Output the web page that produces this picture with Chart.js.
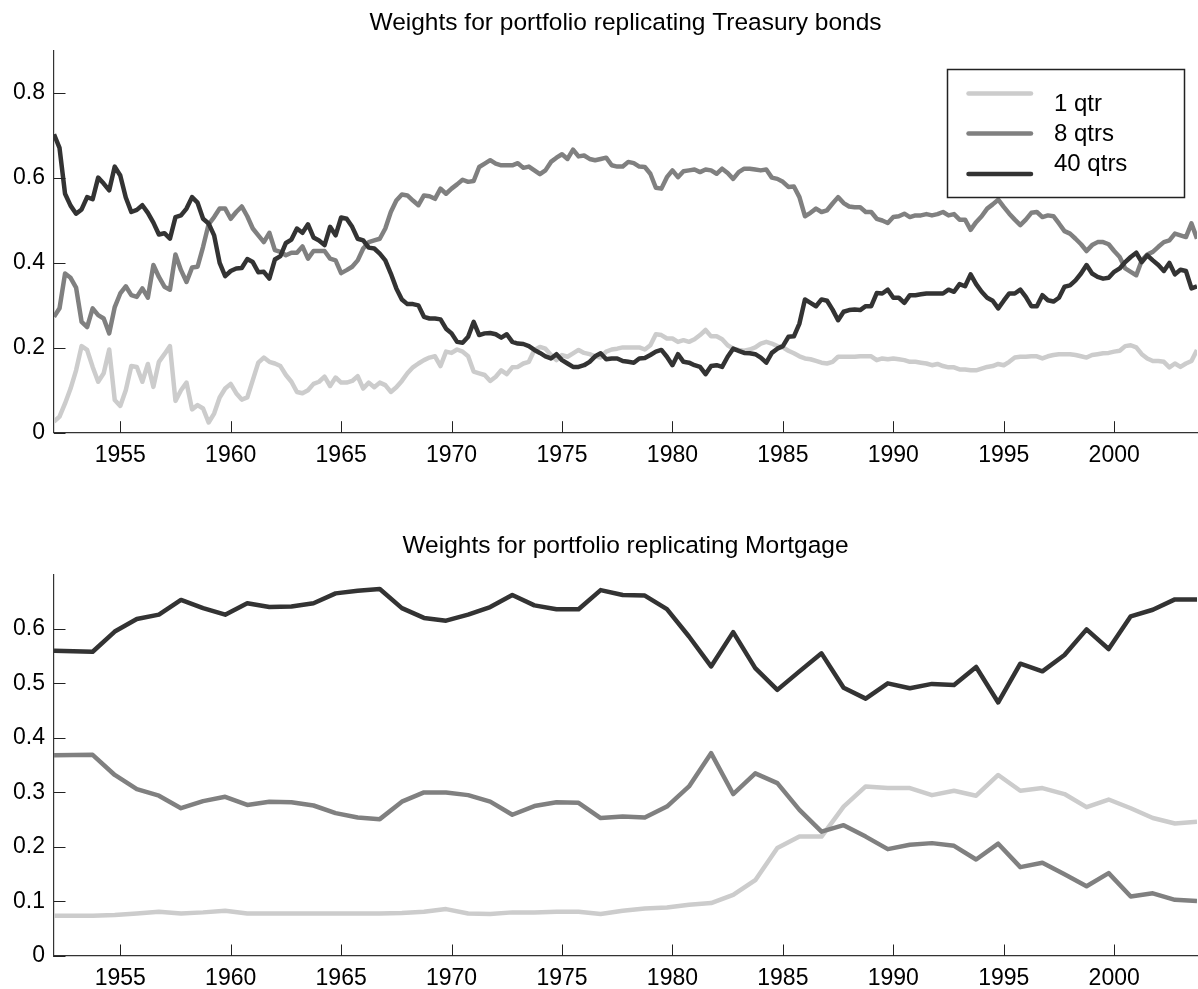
<!DOCTYPE html>
<html>
<head>
<meta charset="utf-8">
<script src="https://cdn.jsdelivr.net/npm/chart.js@4.4.1/dist/chart.umd.min.js"></script>
<style>
  body { margin: 0; background: #fff; }
  .panel { position: absolute; left: 0; width: 1198px; }
  #topPanel { top: 0; height: 494px; }
  #bottomPanel { top: 494px; height: 495px; }
</style>
</head>
<body>
<div class="panel" id="topPanel"><canvas id="treasuryChart"></canvas></div>
<div class="panel" id="bottomPanel"><canvas id="mortgageChart"></canvas></div>
<script>
// Series names and greys, shared by both panels
const seriesLabels = ['1 qtr', '8 qtrs', '40 qtrs'];
const seriesColors = ['#cccccc', '#808080', '#333333'];

const xTicks = [1955, 1960, 1965, 1970, 1975, 1980, 1985, 1990, 1995, 2000];
const treasuryYTicks = [0, 0.2, 0.4, 0.6, 0.8];
const mortgageYTicks = [0, 0.1, 0.2, 0.3, 0.4, 0.5, 0.6];

// Treasury panel: quarterly, 1952Q1 .. 2003Q4
const treasuryStart = 1952;
const treasury1q = [
    0.026, 0.038, 0.069, 0.104, 0.147, 0.204, 0.195, 0.155, 0.120, 0.140,
    0.196, 0.077, 0.063, 0.100, 0.157, 0.155, 0.120, 0.162, 0.108, 0.167,
    0.185, 0.204, 0.075, 0.100, 0.118, 0.055, 0.065, 0.057, 0.024, 0.045,
    0.083, 0.104, 0.115, 0.093, 0.078, 0.083, 0.124, 0.165, 0.177, 0.167,
    0.163, 0.157, 0.136, 0.120, 0.096, 0.093, 0.100, 0.115, 0.120, 0.132,
    0.110, 0.130, 0.118, 0.118, 0.122, 0.133, 0.104, 0.118, 0.107, 0.118,
    0.112, 0.096, 0.107, 0.122, 0.140, 0.154, 0.163, 0.171, 0.177, 0.180,
    0.157, 0.191, 0.188, 0.196, 0.191, 0.180, 0.144, 0.140, 0.136, 0.122,
    0.132, 0.147, 0.138, 0.154, 0.155, 0.163, 0.167, 0.195, 0.202, 0.198,
    0.183, 0.171, 0.183, 0.179, 0.187, 0.195, 0.188, 0.185, 0.180, 0.177,
    0.191, 0.196, 0.198, 0.201, 0.201, 0.201, 0.201, 0.196, 0.206, 0.232,
    0.230, 0.222, 0.222, 0.214, 0.218, 0.214, 0.220, 0.230, 0.242, 0.227,
    0.227, 0.220, 0.206, 0.198, 0.195, 0.193, 0.196, 0.201, 0.210, 0.214,
    0.210, 0.204, 0.201, 0.193, 0.187, 0.180, 0.175, 0.173, 0.169, 0.165,
    0.163, 0.167, 0.179, 0.179, 0.179, 0.179, 0.180, 0.180, 0.180, 0.171,
    0.175, 0.173, 0.175, 0.173, 0.171, 0.167, 0.167, 0.165, 0.163, 0.159,
    0.162, 0.157, 0.154, 0.154, 0.149, 0.149, 0.147, 0.147, 0.151, 0.155,
    0.157, 0.162, 0.159, 0.167, 0.177, 0.179, 0.179, 0.180, 0.180, 0.175,
    0.180, 0.183, 0.185, 0.185, 0.185, 0.183, 0.180, 0.177, 0.183, 0.185,
    0.187, 0.188, 0.191, 0.193, 0.204, 0.206, 0.201, 0.185, 0.175, 0.169,
    0.169, 0.167, 0.154, 0.163, 0.155, 0.163, 0.169, 0.195
];
const treasury8q = [
    0.273, 0.293, 0.375, 0.365, 0.342, 0.261, 0.249, 0.293, 0.277, 0.269,
    0.234, 0.296, 0.328, 0.345, 0.324, 0.320, 0.340, 0.318, 0.395, 0.367,
    0.344, 0.337, 0.420, 0.383, 0.355, 0.389, 0.391, 0.438, 0.491, 0.508,
    0.528, 0.528, 0.504, 0.520, 0.533, 0.510, 0.481, 0.465, 0.449, 0.471,
    0.430, 0.426, 0.418, 0.424, 0.424, 0.439, 0.410, 0.428, 0.428, 0.428,
    0.410, 0.406, 0.376, 0.383, 0.391, 0.406, 0.434, 0.449, 0.453, 0.457,
    0.481, 0.520, 0.547, 0.561, 0.559, 0.547, 0.536, 0.559, 0.557, 0.551,
    0.575, 0.563, 0.575, 0.585, 0.596, 0.591, 0.593, 0.626, 0.634, 0.642,
    0.634, 0.630, 0.630, 0.630, 0.635, 0.624, 0.627, 0.618, 0.609, 0.618,
    0.638, 0.648, 0.656, 0.645, 0.667, 0.651, 0.653, 0.645, 0.642, 0.645,
    0.648, 0.630, 0.627, 0.627, 0.638, 0.635, 0.627, 0.626, 0.610, 0.577,
    0.575, 0.602, 0.618, 0.602, 0.616, 0.618, 0.620, 0.614, 0.620, 0.618,
    0.610, 0.622, 0.612, 0.598, 0.614, 0.622, 0.622, 0.620, 0.618, 0.620,
    0.601, 0.598, 0.591, 0.579, 0.580, 0.555, 0.510, 0.518, 0.528, 0.520,
    0.524, 0.540, 0.555, 0.541, 0.533, 0.531, 0.531, 0.520, 0.520, 0.504,
    0.500, 0.494, 0.508, 0.510, 0.516, 0.508, 0.512, 0.512, 0.515, 0.512,
    0.515, 0.520, 0.512, 0.515, 0.502, 0.502, 0.478, 0.496, 0.510, 0.528,
    0.538, 0.549, 0.532, 0.516, 0.502, 0.489, 0.502, 0.518, 0.520, 0.508,
    0.512, 0.510, 0.493, 0.475, 0.469, 0.457, 0.444, 0.428, 0.442, 0.449,
    0.449, 0.444, 0.428, 0.414, 0.387, 0.379, 0.371, 0.406, 0.420, 0.426,
    0.438, 0.449, 0.453, 0.469, 0.465, 0.461, 0.493, 0.457
];
const treasury40q = [
    0.703, 0.671, 0.563, 0.535, 0.516, 0.526, 0.555, 0.550, 0.601, 0.587,
    0.571, 0.627, 0.606, 0.554, 0.520, 0.525, 0.536, 0.518, 0.495, 0.467,
    0.470, 0.457, 0.508, 0.512, 0.528, 0.555, 0.542, 0.504, 0.493, 0.465,
    0.400, 0.369, 0.381, 0.387, 0.388, 0.409, 0.402, 0.378, 0.379, 0.363,
    0.408, 0.416, 0.447, 0.455, 0.481, 0.471, 0.491, 0.460, 0.453, 0.442,
    0.485, 0.465, 0.507, 0.504, 0.485, 0.457, 0.453, 0.436, 0.434, 0.422,
    0.406, 0.375, 0.340, 0.314, 0.303, 0.303, 0.300, 0.273, 0.269, 0.269,
    0.267, 0.245, 0.234, 0.214, 0.212, 0.226, 0.261, 0.230, 0.234, 0.235,
    0.232, 0.224, 0.232, 0.214, 0.210, 0.209, 0.204, 0.195, 0.188, 0.180,
    0.175, 0.185, 0.171, 0.163, 0.155, 0.155, 0.159, 0.167, 0.180, 0.187,
    0.173, 0.175, 0.175, 0.169, 0.167, 0.165, 0.175, 0.176, 0.183, 0.191,
    0.195, 0.179, 0.159, 0.185, 0.167, 0.165, 0.159, 0.155, 0.138, 0.157,
    0.159, 0.155, 0.179, 0.198, 0.193, 0.188, 0.187, 0.185, 0.177, 0.165,
    0.188, 0.198, 0.204, 0.226, 0.227, 0.257, 0.314, 0.306, 0.298, 0.314,
    0.311, 0.290, 0.265, 0.285, 0.289, 0.290, 0.289, 0.298, 0.298, 0.329,
    0.328, 0.337, 0.318, 0.318, 0.306, 0.324, 0.324, 0.326, 0.328, 0.328,
    0.328, 0.328, 0.337, 0.332, 0.350, 0.345, 0.373, 0.350, 0.332, 0.318,
    0.311, 0.293, 0.311, 0.328, 0.328, 0.337, 0.320, 0.298, 0.298, 0.324,
    0.312, 0.309, 0.318, 0.344, 0.347, 0.359, 0.375, 0.395, 0.375, 0.367,
    0.363, 0.365, 0.379, 0.387, 0.402, 0.414, 0.424, 0.402, 0.418, 0.406,
    0.395, 0.381, 0.400, 0.373, 0.384, 0.381, 0.340, 0.345
];

// Mortgage panel: one value per year (fourth quarter)
const mortgageYears = [
    1952, 1953.75, 1954.75, 1955.75, 1956.75, 1957.75, 1958.75, 1959.75, 1960.75, 1961.75,
    1962.75, 1963.75, 1964.75, 1965.75, 1966.75, 1967.75, 1968.75, 1969.75, 1970.75, 1971.75,
    1972.75, 1973.75, 1974.75, 1975.75, 1976.75, 1977.75, 1978.75, 1979.75, 1980.75, 1981.75,
    1982.75, 1983.75, 1984.75, 1985.75, 1986.75, 1987.75, 1988.75, 1989.75, 1990.75, 1991.75,
    1992.75, 1993.75, 1994.75, 1995.75, 1996.75, 1997.75, 1998.75, 1999.75, 2000.75, 2001.75,
    2002.75, 2003.75
];
const mortgage1q = [
    0.074, 0.074, 0.075, 0.078, 0.081, 0.078, 0.080, 0.083, 0.078, 0.078,
    0.078, 0.078, 0.078, 0.078, 0.078, 0.079, 0.081, 0.086, 0.078, 0.077,
    0.080, 0.080, 0.081, 0.081, 0.077, 0.083, 0.087, 0.089, 0.094, 0.097,
    0.112, 0.139, 0.198, 0.219, 0.219, 0.274, 0.311, 0.308, 0.308, 0.295,
    0.303, 0.294, 0.332, 0.303, 0.308, 0.297, 0.273, 0.287, 0.271, 0.253,
    0.243, 0.246
];
const mortgage8q = [
    0.368, 0.369, 0.332, 0.306, 0.294, 0.271, 0.284, 0.292, 0.277, 0.283,
    0.282, 0.276, 0.262, 0.254, 0.251, 0.283, 0.300, 0.300, 0.295, 0.283,
    0.259, 0.275, 0.282, 0.281, 0.253, 0.256, 0.254, 0.274, 0.311, 0.372,
    0.297, 0.335, 0.317, 0.268, 0.228, 0.240, 0.219, 0.196, 0.204, 0.207,
    0.202, 0.177, 0.206, 0.163, 0.171, 0.150, 0.128, 0.152, 0.109, 0.115,
    0.103, 0.101
];
const mortgage40q = [
    0.560, 0.558, 0.595, 0.618, 0.626, 0.653, 0.638, 0.626, 0.647, 0.640,
    0.641, 0.647, 0.665, 0.670, 0.673, 0.638, 0.620, 0.615, 0.626, 0.640,
    0.662, 0.643, 0.636, 0.636, 0.671, 0.662, 0.661, 0.636, 0.586, 0.531,
    0.594, 0.528, 0.488, 0.522, 0.555, 0.492, 0.472, 0.500, 0.491, 0.499,
    0.497, 0.530, 0.465, 0.536, 0.522, 0.552, 0.599, 0.563, 0.623, 0.635,
    0.654, 0.654
];

const treasuryQuarters = treasury1q.map((v, i) => treasuryStart + i / 4);

Chart.defaults.font.family = '"Liberation Sans", Arial, Helvetica, sans-serif';
Chart.defaults.color = '#000';

// MATLAB style tick marks that point into the axes
const insideTicks = {
    id: 'insideTicks',
    afterDatasetsDraw(chart) {
        const { ctx, chartArea, scales } = chart;
        ctx.save();
        ctx.strokeStyle = '#222';
        ctx.lineWidth = 1;
        ctx.beginPath();
        scales.x.ticks.forEach(t => {
            const px = Math.round(scales.x.getPixelForValue(t.value)) + 0.5;
            ctx.moveTo(px, chartArea.bottom);
            ctx.lineTo(px, chartArea.bottom - 11.5);
        });
        scales.y.ticks.forEach(t => {
            const py = Math.round(scales.y.getPixelForValue(t.value)) + 0.5;
            ctx.moveTo(chartArea.left, py);
            ctx.lineTo(chartArea.left + 11.5, py);
        });
        ctx.stroke();
        ctx.restore();
    }
};

// Boxed legend in the upper right of the Treasury panel
const boxLegend = {
    id: 'boxLegend',
    afterDraw(chart) {
        const ctx = chart.ctx;
        const lineY = [93.5, 133.5, 174];
        const textY = [104, 134, 164];
        ctx.save();
        ctx.fillStyle = '#fff';
        ctx.fillRect(947, 69, 238, 129);
        ctx.strokeStyle = '#222';
        ctx.lineWidth = 1.5;
        ctx.strokeRect(947.5, 69.5, 237, 128);
        chart.data.datasets.forEach((ds, i) => {
            ctx.strokeStyle = ds.borderColor;
            ctx.lineWidth = 4.5;
            ctx.lineCap = 'round';
            ctx.beginPath();
            ctx.moveTo(968.5, lineY[i]);
            ctx.lineTo(1031, lineY[i]);
            ctx.stroke();
            ctx.fillStyle = '#000';
            ctx.font = '24px "Liberation Sans", Arial, sans-serif';
            ctx.textBaseline = 'middle';
            ctx.fillText(ds.label, 1054, textY[i]);
        });
        ctx.restore();
    }
};

function buildDatasets(xs, series) {
    return series.map((values, i) => ({
        label: seriesLabels[i],
        data: values.map((v, j) => ({ x: xs[j], y: v })),
        borderColor: seriesColors[i],
        backgroundColor: seriesColors[i],
        borderWidth: 4.5,
        borderJoinStyle: 'round',
        pointRadius: 0,
        tension: 0,
        order: series.length - i
    }));
}

function createPanel(canvasId, title, xs, series, yMax, yTicks, layout, plugins) {
    const ctx = document.getElementById(canvasId);
    return new Chart(ctx, {
        type: 'line',
        data: { datasets: buildDatasets(xs, series) },
        options: {
            responsive: true,
            maintainAspectRatio: false,
            animation: false,
            layout: { padding: { left: 0, right: 1, top: 0, bottom: 0 } },
            plugins: {
                legend: { display: false },
                tooltip: { enabled: false },
                title: {
                    display: true,
                    text: title,
                    fullSize: false,
                    color: '#000',
                    font: { size: 24.5, weight: 'normal' },
                    padding: { top: layout.titleTop, bottom: layout.titleBottom }
                }
            },
            scales: {
                x: {
                    type: 'linear',
                    min: 1952,
                    max: 2003.75,
                    grid: { display: false, drawTicks: false },
                    border: { display: true, color: '#333', width: 1.2 },
                    afterBuildTicks: scale => { scale.ticks = xTicks.map(v => ({ value: v })); },
                    afterFit: scale => { scale.height = layout.xHeight; },
                    ticks: {
                        padding: 9,
                        color: '#000',
                        font: { size: 23 },
                        maxRotation: 0,
                        callback: v => String(v)
                    }
                },
                y: {
                    min: 0,
                    max: yMax,
                    grid: { display: false, drawTicks: false },
                    border: { display: true, color: '#333', width: 1.2 },
                    afterBuildTicks: scale => { scale.ticks = yTicks.map(v => ({ value: v })); },
                    afterFit: scale => { scale.width = 54; },
                    ticks: {
                        padding: 9,
                        color: '#000',
                        font: { size: 23 },
                        callback: v => String(v)
                    }
                }
            }
        },
        plugins: plugins
    });
}

createPanel('treasuryChart', 'Weights for portfolio replicating Treasury bonds',
    treasuryQuarters, [treasury1q, treasury8q, treasury40q], 0.9, treasuryYTicks,
    { titleTop: 8.6, titleBottom: 12.7, xHeight: 61.3 }, [insideTicks, boxLegend]);

createPanel('mortgageChart', 'Weights for portfolio replicating Mortgage',
    mortgageYears, [mortgage1q, mortgage8q, mortgage40q], 0.7, mortgageYTicks,
    { titleTop: 38, titleBottom: 12.9, xHeight: 33 }, [insideTicks]);
</script>
</body>
</html>
